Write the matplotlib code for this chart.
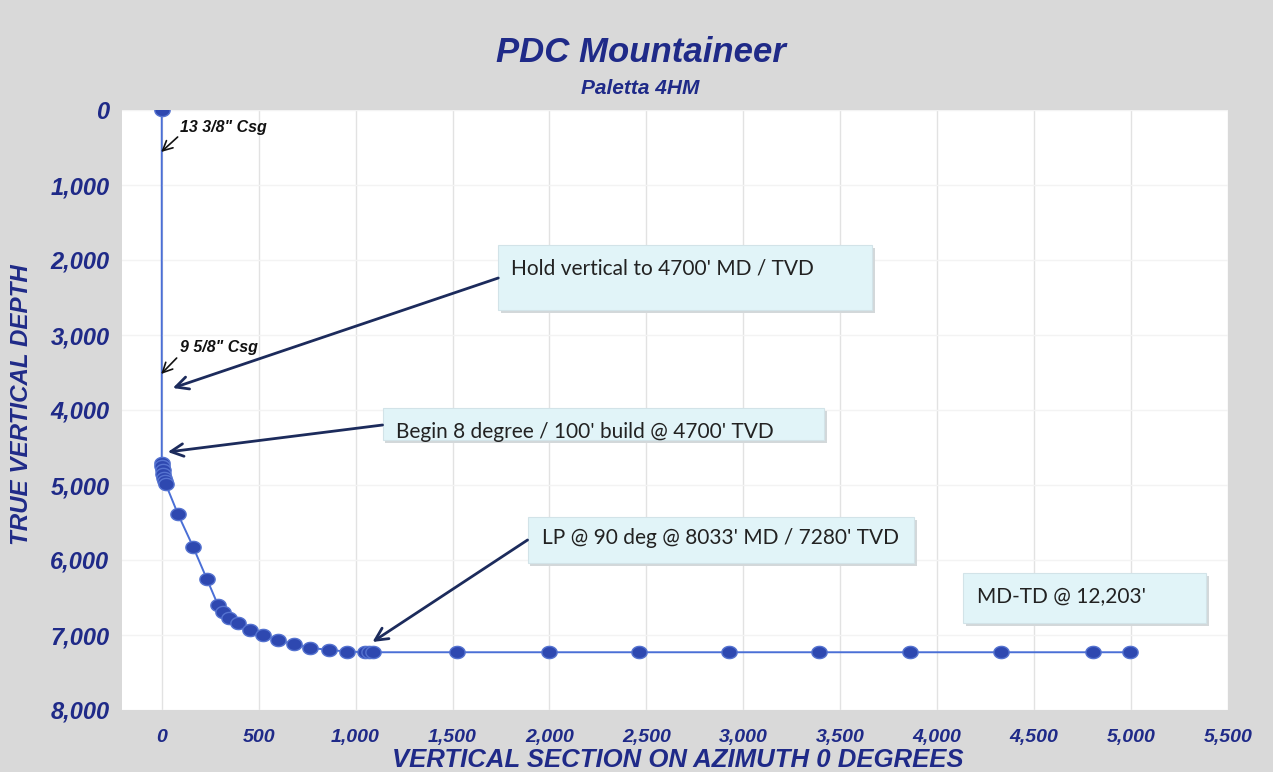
import matplotlib
matplotlib.use("Agg")
import matplotlib.pyplot as plt
from matplotlib.path import Path
from matplotlib.patches import Rectangle
import numpy as np

# ---- data ----
vertical_section = [0, 0, 2, 5, 9, 13, 17, 21,
                    84, 161, 233, 290, 316, 347, 393, 453, 522, 599, 680,
                    766, 862, 956, 1050, 1070, 1088,
                    1525, 1998, 2461, 2925, 3388, 3862, 4331, 4804, 4996]
true_vertical_depth = [0, 4700, 4750, 4800, 4850, 4900, 4950, 4990,
                       5390, 5820, 6255, 6600, 6690, 6775, 6845, 6930, 7000, 7065, 7125,
                       7170, 7200, 7220, 7230, 7230, 7230,
                       7230, 7230, 7230, 7230, 7230, 7230, 7230, 7230, 7230]
x_ticks = [0, 500, 1000, 1500, 2000, 2500, 3000, 3500, 4000, 4500, 5000, 5500]
y_ticks = [0, 1000, 2000, 3000, 4000, 5000, 6000, 7000, 8000]

title = "PDC Mountaineer"
subtitle = "Paletta 4HM"
x_label = "VERTICAL SECTION ON AZIMUTH 0 DEGREES"
y_label = "TRUE VERTICAL DEPTH"

NAVY = "#1F2A88"
BG = "#D9D9D9"
BOXFILL = "#E1F4F8"
ARROW = "#1C2B5C"

fig = plt.figure(figsize=(12.73, 7.72), dpi=100)
fig.patch.set_facecolor(BG)
ax = fig.add_axes([122/1273, 1-710/772, (1228-122)/1273, 600/772])
ax.set_facecolor("white")
ax.set_xlim(-205, 5500)
ax.set_ylim(8000, 0)
for s in ax.spines.values():
    s.set_visible(False)
ax.set_xticks(x_ticks)
ax.set_yticks(y_ticks)
ax.set_xticklabels([f"{v:,}" for v in x_ticks])
ax.set_yticklabels([f"{v:,}" for v in y_ticks])
ax.tick_params(length=0)
ax.tick_params(axis="x", pad=14)
ax.tick_params(axis="y", pad=9)
for lab in ax.get_xticklabels():
    lab.set_fontsize(14); lab.set_fontweight("bold"); lab.set_fontstyle("italic"); lab.set_color(NAVY)
    lab.set_family("Liberation Sans")
for lab in ax.get_yticklabels():
    lab.set_fontsize(17); lab.set_fontweight("bold"); lab.set_fontstyle("italic"); lab.set_color(NAVY)
    lab.set_family("Liberation Sans")
ax.grid(True, axis="x", color="#E2E2E2", lw=1)
ax.grid(True, axis="y", color="#F3F3F3", lw=1)
ax.set_axisbelow(True)

# elliptical marker
t = np.linspace(0, 2*np.pi, 40)
ell = Path(np.column_stack([1.25*np.cos(t), np.sin(t)]), closed=True)

ax.plot(vertical_section, true_vertical_depth, color="#4A6FD6", lw=1.4, zorder=3,
        marker=ell, markersize=11, markerfacecolor="#2E48B0", markeredgecolor="#5573D0",
        markeredgewidth=1, clip_on=True)

# titles
fig.text(641/1273, 1-52/772, title, ha="center", va="center", fontsize=25,
         fontweight="bold", fontstyle="italic", color=NAVY, family="Liberation Sans")
fig.text(640/1273, 1-88/772, subtitle, ha="center", va="center", fontsize=15,
         fontweight="bold", fontstyle="italic", color=NAVY, family="Liberation Sans")
fig.text(678/1273, 1-760/772, x_label, ha="center", va="center", fontsize=18.5,
         fontweight="bold", fontstyle="italic", color=NAVY, family="Liberation Sans")
fig.text(22/1273, 1-405/772, y_label, ha="center", va="center", rotation=90, fontsize=17.4,
         fontweight="bold", fontstyle="italic", color=NAVY, family="Liberation Sans")

# casing notes
csg_text = dict(fontsize=11.5, fontweight="bold", fontstyle="italic", color="#111111",
                family="Liberation Sans", va="center", ha="left")
csg_arrow = dict(arrowstyle="->,head_length=0.7,head_width=0.35", color="#111111", lw=1.2,
                 shrinkA=0, shrinkB=0)
ax.text(92, 227, "13 3/8\" Csg", **csg_text)
ax.annotate("", xy=(-3, 560), xytext=(82, 360), arrowprops=csg_arrow)
ax.text(92, 3173, "9 5/8\" Csg", **csg_text)
ax.annotate("", xy=(-3, 3520), xytext=(77, 3307), arrowprops=csg_arrow)

# callout boxes
BOX_FONT = ["Lato", "DejaVu Sans"]
def box(x0, x1, y0, y1, text, tx, ty):
    ax.add_patch(Rectangle((x0 + 15, y0 + 35), x1 - x0, y1 - y0, facecolor="#D3D8DA",
                           edgecolor="none", zorder=4))
    ax.add_patch(Rectangle((x0, y0), x1 - x0, y1 - y0, facecolor=BOXFILL,
                           edgecolor="#D2E3E8", lw=0.8, zorder=5))
    ax.text(tx, ty, text, fontsize=15, family=BOX_FONT, color="#222222",
            ha="left", va="center", zorder=6)

box(1736, 3665, 1800, 2667, "Hold vertical to 4700' MD / TVD", 1800, 2110)
box(1139, 3418, 3973, 4400, "Begin 8 degree / 100' build @ 4700' TVD", 1210, 4295)
box(1887, 3881, 5427, 6040, "LP @ 90 deg @ 8033' MD / 7280' TVD", 1960, 5710)
box(4131, 5387, 6173, 6840, "MD-TD @ 12,203'", 4205, 6495)

arrow_kw = dict(arrowstyle="->,head_length=0.9,head_width=0.45", color=ARROW, lw=2,
                shrinkA=0, shrinkB=0)
ax.annotate("", xy=(57, 3707), xytext=(1736, 2240), arrowprops=arrow_kw, zorder=7)
ax.annotate("", xy=(31, 4560), xytext=(1139, 4200), arrowprops=arrow_kw, zorder=7)
ax.annotate("", xy=(1087, 7093), xytext=(1887, 5733), arrowprops=arrow_kw, zorder=7)

fig.savefig("out.png", dpi=100, facecolor=BG)
